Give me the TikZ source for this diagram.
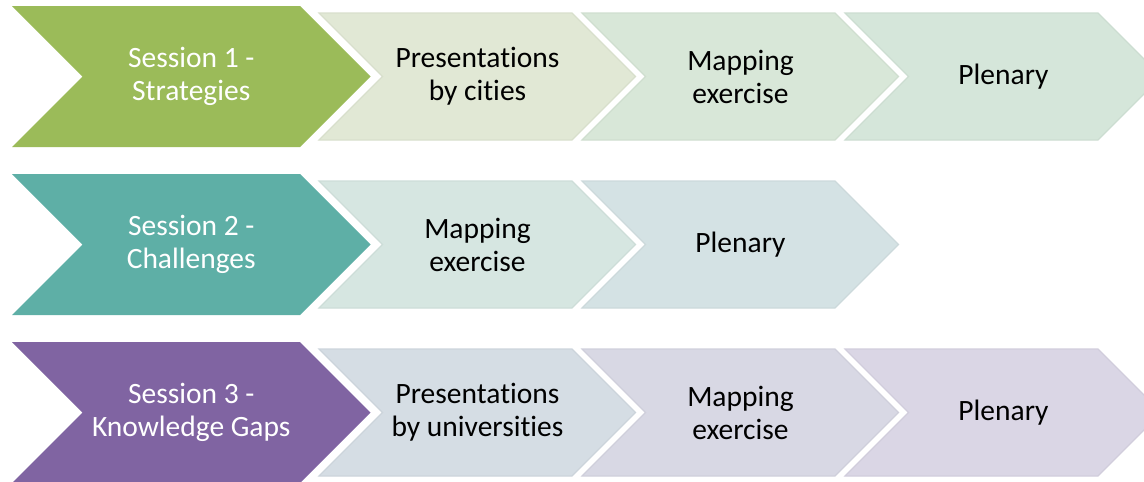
\documentclass[tikz,border=0pt]{standalone}
\usepackage{fontspec}
\setmainfont[Ligatures={NoCommon}]{Carlito}
\definecolor{olive}{RGB}{155,187,89}
\definecolor{teal}{RGB}{94,175,166}
\definecolor{violet}{RGB}{128,100,162}
\definecolor{oliveA}{RGB}{225,232,213}
\definecolor{oliveB}{RGB}{216,231,216}
\definecolor{oliveC}{RGB}{213,230,218}
\definecolor{tealA}{RGB}{214,230,225}
\definecolor{tealB}{RGB}{212,226,228}
\definecolor{violetA}{RGB}{213,221,228}
\definecolor{violetB}{RGB}{216,216,228}
\definecolor{violetC}{RGB}{218,214,229}
% chevron: #1 left x, #2 centre y, #3 straight width, #4 half height
\newcommand{\chevronpath}[4]{%
  (#1,#2-#4) -- (#1+#3,#2-#4) -- (#1+#3+#4,#2) -- (#1+#3,#2+#4)
  -- (#1,#2+#4) -- (#1+#4,#2) -- cycle}
\tikzset{
  headbox/.style={fill=#1},
  stagebox/.style={fill=#1, draw=#1!96!black, line width=1.2pt},
  headtext/.style={text=white, align=center, font=\fontsize{29.5}{33}\selectfont},
  stagetext/.style={text=black, align=center, font=\fontsize{29.5}{33}\selectfont},
}
\begin{document}
\begin{tikzpicture}[x=1pt,y=-1pt]
\useasboundingbox (0,0) rectangle (1144,482);
\clip (0,0) rectangle (1144,482);
% row 1
\path[headbox=olive] \chevronpath{12}{76.5}{288}{70.5};
\path[stagebox=oliveA] \chevronpath{319}{76.5}{253}{63.5};
\path[stagebox=oliveB] \chevronpath{582}{76.5}{253}{63.5};
\path[stagebox=oliveC] \chevronpath{845}{76.5}{253}{63.5};
\node[headtext] (s1) at (191.25,76.5) {Session 1 -\\Strategies};
\node[stagetext] (s1a) at (477.5,76.5) {Presentations\\by cities};
\node[stagetext] (s1b) at (740.5,76.5) {Mapping\\exercise};
\node[stagetext] (s1c) at (1003.5,76.5) {Plenary};
% row 2
\path[headbox=teal] \chevronpath{12}{244.5}{288}{70.5};
\path[stagebox=tealA] \chevronpath{319}{244.5}{253}{63.5};
\path[stagebox=tealB] \chevronpath{582}{244.5}{253}{63.5};
\node[headtext] (s2) at (191.25,244.5) {Session 2 -\\Challenges};
\node[stagetext] (s2a) at (477.5,244.5) {Mapping\\exercise};
\node[stagetext] (s2b) at (740.5,244.5) {Plenary};
% row 3
\path[headbox=violet] \chevronpath{12}{412.5}{288}{70.5};
\path[stagebox=violetA] \chevronpath{319}{412.5}{253}{63.5};
\path[stagebox=violetB] \chevronpath{582}{412.5}{253}{63.5};
\path[stagebox=violetC] \chevronpath{845}{412.5}{253}{63.5};
\node[headtext] (s3) at (191.25,412.5) {Session 3 -\\Knowledge Gaps};
\node[stagetext] (s3a) at (477.5,412.5) {Presentations\\by universities};
\node[stagetext] (s3b) at (740.5,412.5) {Mapping\\exercise};
\node[stagetext] (s3c) at (1003.5,412.5) {Plenary};
\end{tikzpicture}
\end{document}
